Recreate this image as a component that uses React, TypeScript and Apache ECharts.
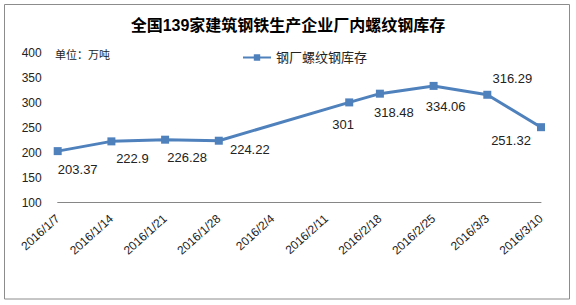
import React, { useEffect, useRef } from "react";
import * as echarts from "echarts";

const title = "全国139家建筑钢铁生产企业厂内螺纹钢库存";
const seriesName = "钢厂螺纹钢库存";
const unitText = "单位：万吨";
const startDate = "2016/1/7";
const dates = ["2016/1/7", "2016/1/14", "2016/1/21", "2016/1/28", "2016/2/14", "2016/2/18", "2016/2/25", "2016/3/3", "2016/3/10"];
const values = [203.37, 222.9, 226.28, 224.22, 301, 318.48, 334.06, 316.29, 251.32];
// label placement (layout only)
const labelOffsets: [number, number][] = [
  [20, 18], [21, 17], [22, 18], [31, 9], [-6, 22], [14, 19], [12, 21], [25, -16], [-30, 13],
];

const DAY = 86400000;
const parse = (s: string) => {
  const [y, m, d] = s.split("/").map(Number);
  return Date.UTC(y, m - 1, d);
};
const dayIndex = (s: string) => Math.round((parse(s) - parse(startDate)) / DAY);
const fmt = (n: number) => {
  const d = new Date(parse(startDate) + n * DAY);
  return `${d.getUTCFullYear()}/${d.getUTCMonth() + 1}/${d.getUTCDate()}`;
};

export default function App() {
  const ref = useRef<HTMLDivElement>(null);
  useEffect(() => {
    if (!ref.current) return;
    const chart = echarts.init(ref.current, null, { renderer: "svg" });
    const font = "'Liberation Sans', 'Noto Sans CJK SC', sans-serif";
    chart.setOption({
      animation: false,
      textStyle: { fontFamily: font },
      title: {
        text: title,
        left: "center",
        top: 17,
        padding: 0,
        textStyle: { fontSize: 16, fontWeight: "bold", color: "#000", fontFamily: font },
      },
      legend: {
        left: 242,
        top: 51,
        padding: 0,
        itemWidth: 28,
        itemHeight: 8,
        itemGap: 5,
        textStyle: { fontSize: 13, color: "#222", fontFamily: font },
        data: [seriesName],
      },
      graphic: [
        {
          type: "rect",
          shape: { x: 4.5, y: 4.5, width: 565, height: 294.5 },
          style: { fill: "none", stroke: "#8c8c8c", lineWidth: 1 },
          silent: true,
        },
        {
          type: "text",
          left: 55,
          top: 49,
          style: { text: unitText, fontSize: 11, fill: "#222", fontFamily: font },
        },
      ],
      grid: { left: 57.7, right: 35, top: 53, bottom: 102.3, containLabel: false },
      xAxis: {
        type: "value",
        min: 0,
        max: dayIndex(dates[dates.length - 1]),
        interval: 7,
        splitLine: { show: false },
        axisTick: { show: false },
        axisLine: { show: true, lineStyle: { color: "#868686", width: 1 } },
        axisLabel: {
          rotate: 42,
          fontSize: 12,
          color: "#222",
          margin: 14,
          formatter: (v: number) => fmt(v),
          showMinLabel: true,
          showMaxLabel: true,
        },
      },
      yAxis: {
        type: "value",
        min: 100,
        max: 400,
        interval: 50,
        splitLine: { show: false },
        axisLine: { show: false },
        axisTick: { show: false },
        axisLabel: { fontSize: 12, color: "#222", margin: 16 },
      },
      series: [
        {
          name: seriesName,
          type: "line",
          symbol: "rect",
          symbolSize: 8,
          lineStyle: { color: "#4F81BD", width: 3 },
          itemStyle: { color: "#4F81BD" },
          data: dates.map((d, i) => ({
            value: [dayIndex(d), values[i]],
            label: {
              show: true,
              position: "inside",
              offset: labelOffsets[i],
              formatter: String(values[i]),
              fontSize: 13,
              color: "#222",
              fontFamily: font,
            },
          })),
        },
      ],
    });
    return () => chart.dispose();
  }, []);
  return (
    <div style={{ position: "fixed", left: 0, top: 0, width: 576, height: 305, background: "#fff" }}>
      <div ref={ref} style={{ width: 576, height: 305 }} />
    </div>
  );
}
